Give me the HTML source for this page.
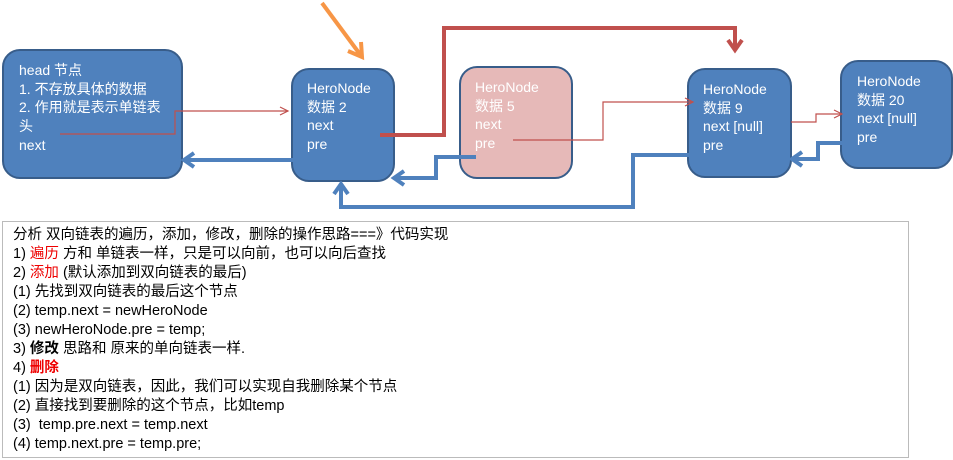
<!DOCTYPE html>
<html><head><meta charset="utf-8"><style>
body{margin:0;width:953px;height:460px;background:#fff;position:relative;overflow:hidden;font-family:"Liberation Sans","Noto Sans CJK SC",sans-serif}
.n{position:absolute;background:#4f81bd;border:2px solid #385d8a;border-radius:18px;box-sizing:border-box;color:#fff;font-size:14px;line-height:18.7px;white-space:nowrap}
.box{position:absolute;left:2px;top:221px;width:907px;height:237px;border:1px solid #bbb;box-sizing:border-box;padding:4px 0 0 10px;font-size:14.5px;line-height:19px;color:#000;white-space:nowrap}
.r{color:#e00}
svg{position:absolute;left:0;top:0}
</style></head><body>
<div class="n" style="left:2px;top:49px;width:181px;height:130px;padding:10px 0 0 15px">head 节点<br>1. 不存放具体的数据<br>2. 作用就是表示单链表<br>头<br>next</div>
<div class="n" style="left:291px;top:68px;width:104px;height:114px;padding:9px 0 0 14px">HeroNode<br>数据 2<br>next<br>pre</div>
<div class="n" style="left:459px;top:66px;width:114px;height:113px;padding:10px 0 0 14px;background:#e6b9b8;color:#fff">HeroNode<br>数据 5<br>next<br>pre</div>
<div class="n" style="left:687px;top:68px;width:105px;height:110px;padding:10px 0 0 14px">HeroNode<br>数据 9<br>next [null]<br>pre</div>
<div class="n" style="left:840px;top:60px;width:113px;height:109px;padding:10px 0 0 15px">HeroNode<br>数据 20<br>next [null]<br>pre</div>
<svg width="953" height="460">
<g fill="none" stroke="#c0504d" stroke-width="1.2">
<polyline points="60,134 175,134 175,111 288,111"/><polyline points="280,107 288,111 280,115"/>
<polyline points="513,140 603,140 603,102 693,102"/><polyline points="685,98 693,102 685,106"/>
<polyline points="791,122 816,122 816,114 842,114"/><polyline points="834,110 842,114 834,118"/>
</g>
<g fill="none" stroke="#c0504d" stroke-width="4">
<polyline points="380,135 444,135 444,28 735,28 735,50"/><polyline points="728,40 735,50 742,40"/>
</g>
<g fill="none" stroke="#f79646" stroke-width="4"><line x1="322" y1="3" x2="362" y2="57"/><polyline points="348,51 362,57 361,42"/></g>
<g fill="none" stroke="#4f81bd" stroke-width="4">
<polyline points="294,160 184,160"/><polyline points="194,153 184,160 194,167"/>
<polyline points="476,157 436,157 436,178 394,178"/><polyline points="404,171 394,178 404,185"/>
<polyline points="697,155 633,155 633,207 341,207 341,184"/><polyline points="334,194 341,184 348,194"/>
<polyline points="848,143 818,143 818,159 792,159"/><polyline points="802,152 792,159 802,166"/>
</g>
</svg>
<div class="box">分析 双向链表的遍历，添加，修改，删除的操作思路===》代码实现<br>1) <span class="r">遍历</span> 方和 单链表一样，只是可以向前，也可以向后查找<br>2) <span class="r">添加</span> (默认添加到双向链表的最后)<br>(1) 先找到双向链表的最后这个节点<br>(2) temp.next = newHeroNode<br>(3) newHeroNode.pre = temp;<br>3) <b>修改</b> 思路和 原来的单向链表一样.<br>4) <b class="r">删除</b><br>(1) 因为是双向链表，因此，我们可以实现自我删除某个节点<br>(2) 直接找到要删除的这个节点，比如temp<br>(3)&nbsp; temp.pre.next = temp.next<br>(4) temp.next.pre = temp.pre;</div>
</body></html>
